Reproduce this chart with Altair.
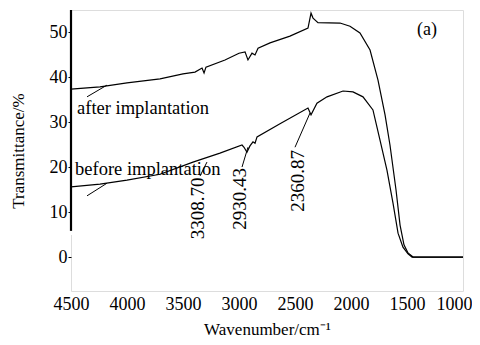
import altair as alt
import pandas as pd

# Curve after implantation (wavenumber cm^-1, transmittance %)
after_w = [4500, 4241, 4000, 3705, 3500, 3393, 3330, 3312, 3295, 3125, 3000, 2946, 2920,
           2884, 2857, 2830, 2723, 2545, 2384, 2357, 2339, 2295, 2098, 2009, 1920, 1830,
           1759, 1696, 1652, 1598, 1562, 1527, 1491, 1446, 1000]
after_t = [37.3, 37.8, 38.7, 39.6, 40.7, 41.1, 42.0, 40.9, 42.2, 43.8, 45.3, 45.6, 43.8,
           45.3, 44.9, 46.4, 47.6, 49.1, 50.9, 54.2, 53.1, 52.1, 52.0, 51.3, 49.8, 46.0,
           39.3, 31.6, 24.9, 14.9, 7.1, 2.7, 0.9, 0.0, 0.0]

# Curve before implantation
before_w = [4500, 4241, 4000, 3705, 3411, 3170, 2973, 2955, 2929, 2902, 2875, 2857, 2839,
            2634, 2384, 2357, 2304, 2214, 2071, 1982, 1893, 1804, 1741, 1679, 1625, 1580,
            1536, 1491, 1455, 1000]
before_t = [15.6, 16.2, 17.1, 18.4, 21.1, 23.1, 24.9, 24.4, 23.3, 24.7, 25.6, 25.3, 26.7,
            29.6, 33.1, 31.6, 34.2, 35.6, 36.9, 36.7, 35.6, 32.7, 26.0, 19.3, 12.0, 5.3,
            2.2, 0.7, 0.0, 0.0]

# Text labels
label_text = ["after implantation", "before implantation"]
label_w = [4446, 4464]
label_t = [33.1, 19.6]

peak_text = ["3308.70", "2930.43", "2360.87"]
peak_w = [3366, 2991, 2473]
peak_t = [10.8, 12.9, 16.9]

# Leader lines: (start_w, start_t, end_w, end_t)
lead_id = ["after", "before", "p1", "p2", "p3"]
lead_w1 = [4357, 4357, 3348, 2973, 2500]
lead_t1 = [35.6, 13.6, 18.0, 20.0, 24.4]
lead_w2 = [4179, 4179, 3286, 2920, 2366]
lead_t2 = [38.2, 16.4, 21.1, 24.4, 32.0]

x_ticks = [4500, 4000, 3500, 3000, 2500, 2000, 1500, 1000]
y_ticks = [0, 10, 20, 30, 40, 50]

FONT = "Liberation Serif"

curves = pd.DataFrame(
    {"w": after_w + before_w,
     "t": after_t + before_t,
     "s": ["after"] * len(after_w) + ["before"] * len(before_w),
     "o": list(range(len(after_w))) + list(range(len(before_w)))}
)
labels = pd.DataFrame({"w": label_w, "t": label_t, "txt": label_text})
peaks = pd.DataFrame({"w": peak_w, "t": peak_t, "txt": peak_text})
leads = pd.DataFrame({"w": lead_w1, "t": lead_t1, "w2": lead_w2, "t2": lead_t2, "id": lead_id})
panel = pd.DataFrame({"w": [1321], "t": [50.4], "txt": ["(a)"]})

xs = alt.Scale(domain=[1000, 4500], reverse=True, nice=False, zero=False)
ys = alt.Scale(domain=[-7.55, 54.9], nice=False, zero=False)

x_enc = alt.X("w:Q", scale=xs, axis=alt.Axis(
    values=x_ticks, format="d", title="Wavenumber/cm⁻¹", tickSize=0, labelPadding=4,
    labelOffset=alt.ExprRef("datum.value == 1000 ? -9 : 0"),
    domain=False, grid=False, labelFontSize=18, titleFontSize=17,
    labelFont=FONT, titleFont=FONT, titleFontWeight="normal", titlePadding=8,
    labelColor="black", titleColor="black", labelFlush=False, labelOverlap=False))
y_enc = alt.Y("t:Q", scale=ys, axis=alt.Axis(
    values=y_ticks, format="d", title="Transmittance/%", tickSize=3, tickColor="black",
    labelPadding=1, domain=False, grid=False, labelFontSize=18, titleFontSize=17,
    labelFont=FONT, titleFont=FONT, titleFontWeight="normal", titlePadding=22,
    labelColor="black", titleColor="black"))

lines = alt.Chart(curves).mark_line(color="black", strokeWidth=1.2).encode(
    x=x_enc, y=y_enc, detail="s:N", order="o:Q")

lead_lines = alt.Chart(leads).mark_rule(color="black", strokeWidth=1).encode(
    x="w:Q", y="t:Q", x2="w2:Q", y2="t2:Q")

label_marks = alt.Chart(labels).mark_text(
    align="left", baseline="middle", font=FONT, fontSize=18.5, color="black").encode(
    x="w:Q", y="t:Q", text="txt:N")

peak_marks = alt.Chart(peaks).mark_text(
    align="center", baseline="middle", angle=270, font=FONT, fontSize=19,
    color="black").encode(x="w:Q", y="t:Q", text="txt:N")

panel_mark = alt.Chart(panel).mark_text(
    align="center", baseline="middle", font=FONT, fontSize=18, color="black").encode(
    x="w:Q", y="t:Q", text="txt:N")

# thick left spine above the axis break, white gap for the break
spine = alt.Chart(pd.DataFrame({"a": [54.9], "b": [5.8]})).mark_rule(
    color="black", strokeWidth=2.2).encode(x=alt.value(0), y="a:Q", y2="b:Q")
gap = alt.Chart(pd.DataFrame({"a": [5.8], "b": [4.9]})).mark_rule(
    color="white", strokeWidth=4).encode(x=alt.value(0), y="a:Q", y2="b:Q")

chart = alt.layer(
    lines, lead_lines, label_marks, peak_marks, panel_mark, spine, gap
).properties(
    width=392, height=281,
    autosize=alt.AutoSizeParams(type="none"),
    padding={"left": 63, "top": 2, "right": 9, "bottom": 46},
).configure_view(stroke="black", strokeWidth=1).configure(background="white")

chart.save("out.html", embed_options={"renderer": "svg", "actions": False})
